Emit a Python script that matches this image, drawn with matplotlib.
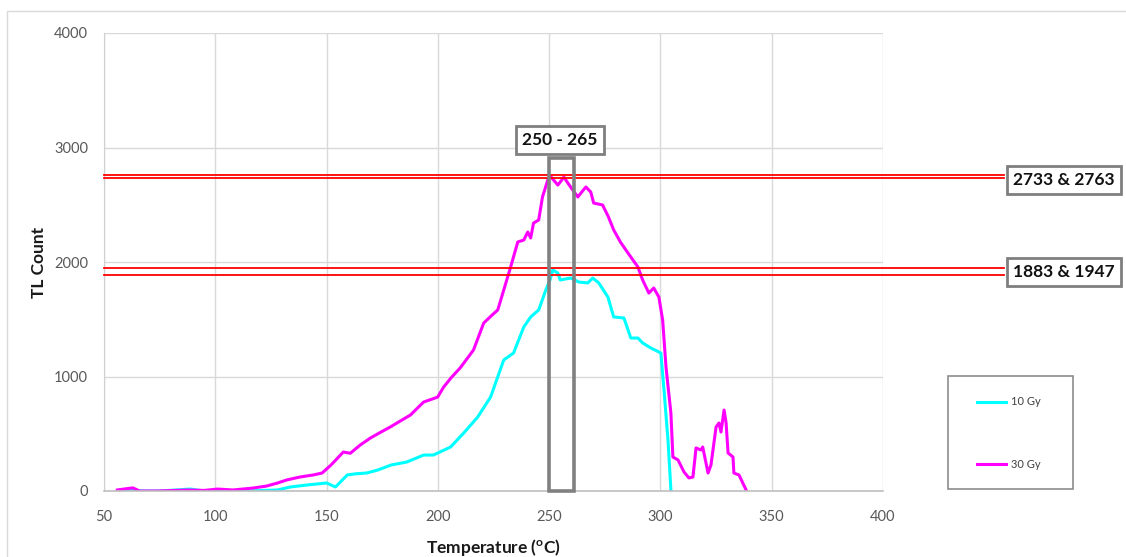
import matplotlib
matplotlib.use("Agg")
import matplotlib.pyplot as plt
from matplotlib.patches import Rectangle

# ---------------- data ----------------
temp_30gy = [
    56, 60, 63, 66, 74, 88, 95, 101, 108, 117,
    123, 128, 132, 138, 144, 148, 152, 157.5, 160.7, 165,
    169.7, 174, 178.7, 183, 187.7, 193.6, 199.9, 202.6, 206, 210,
    216, 220.6, 224, 226.9, 229.6, 232.7, 235.9, 238.6, 240.4, 241.7,
    243, 245.3, 247, 249.4, 250.5, 252, 253.9, 255, 256.6, 258.4,
    260.6, 262.9, 265, 266.5, 268.7, 270, 274, 276.5, 279, 282,
    285.4, 289.9, 292, 294.8, 297, 299.3, 301, 302.5, 304.7, 305.6,
    307.9, 310.6, 312.8, 314.6, 316, 318.2, 319, 321.4, 322.7, 325,
    326.3, 327.2, 328.6, 329.5, 330.4, 332.6, 333, 335.3, 337, 338.5,
]
tl_30gy = [
    9, 20, 27, 0, 0, 9, 5, 17, 9, 26,
    43, 70, 96, 122, 140, 157, 227, 340, 330, 400,
    463, 510, 560, 610, 664, 777, 820, 908, 990, 1074,
    1231, 1467, 1530, 1581, 1755, 1956, 2175, 2192, 2262, 2210,
    2340, 2367, 2568, 2716, 2750, 2716, 2672, 2699, 2742, 2690,
    2629, 2568, 2620, 2655, 2611, 2515, 2498, 2400, 2280, 2175,
    2079, 1956, 1843, 1729, 1773, 1694, 1493, 1083, 681, 297,
    271, 166, 114, 122, 376, 358, 384, 157, 227, 559,
    594, 515, 707, 594, 332, 297, 157, 140, 70, 9,
]
temp_10gy = [
    57, 62, 67, 75, 88.7, 95, 105, 115, 128, 133.7,
    141, 150, 154, 159.3, 163, 168, 173, 179, 186, 193.6,
    198, 205.7, 211.6, 217.9, 223.7, 228, 229.6, 234, 238.6, 241.7,
    245.3, 248.5, 250.5, 251.6, 253.9, 255, 259.7, 263.3, 267.4, 269.6,
    272.3, 276.4, 279, 283.6, 286.7, 289.9, 292, 295.7, 300.2, 301.6,
    303.4, 304.7,
]
tl_10gy = [
    9, 15, 0, 0, 17, 0, 5, 0, 9, 35,
    52, 70, 35, 140, 150, 157, 183, 227, 253, 314,
    314, 384, 506, 646, 821, 1057, 1144, 1205, 1432, 1520,
    1581, 1755, 1850, 1930, 1904, 1843, 1860, 1825, 1817, 1860,
    1817, 1694, 1520, 1511, 1336, 1336, 1293, 1249, 1205, 882,
    445, 9,
]
series_labels = ["10 Gy", "30 Gy"]
series_colors = ["#00FFFF", "#FF00FF"]

x_ticks = [50, 100, 150, 200, 250, 300, 350, 400]
y_ticks = [0, 1000, 2000, 3000, 4000]

peak_levels_30 = [2733, 2763]
peak_levels_10 = [1883, 1947]
peak_window = [250, 261]
peak_window_top = 2910
window_label = "250 - 265"
label_30 = "2733 & 2763"
label_10 = "1883 & 1947"

# ---------------- figure ----------------
plt.rcParams['font.family'] = ['Lato', 'DejaVu Sans']
W, H = 1126, 557
fig = plt.figure(figsize=(W / 100, H / 100), dpi=100)

def fx(px):
    return px / W

def fy(py):
    return 1 - py / H

# outer chart frame
fig.patches.append(Rectangle((fx(7), fy(560)), fx(1130) - fx(7), fy(11) - fy(560),
                             transform=fig.transFigure, fill=False,
                             edgecolor="#d9d9d9", linewidth=1.0))

ax = fig.add_axes([fx(104), fy(491), fx(883) - fx(104), fy(33) - fy(491)])
ax.set_xlim(50, 400)
ax.set_ylim(0, 4000)
ax.set_xticks(x_ticks)
ax.set_yticks(y_ticks)
ax.grid(True, color="#d9d9d9", linewidth=1.0)
ax.set_axisbelow(True)
ax.tick_params(length=0, labelsize=10.5, labelcolor="#595959")
ax.tick_params(axis="x", pad=14)
ax.tick_params(axis="y", pad=11.5)
for s in ["top", "right"]:
    ax.spines[s].set_visible(False)
ax.spines["left"].set_color("#d0d0d0")
ax.spines["bottom"].set_color("#bfbfbf")
ax.spines["bottom"].set_linewidth(1.2)

ax.set_xlabel("Temperature ($\\mathregular{^{o}}$C)", fontsize=12.5, fontweight="bold",
              color="#1a1a1a", labelpad=9)
ax.set_ylabel("TL Count", fontsize=12.5, fontweight="bold", color="#1a1a1a", labelpad=5)

l10, = ax.plot(temp_10gy, tl_10gy, color=series_colors[0], linewidth=2.2)
l30, = ax.plot(temp_30gy, tl_30gy, color=series_colors[1], linewidth=2.2)

# red reference lines extending beyond plot
x_end = (1004 - 104) / (883 - 104)
for lev in peak_levels_30 + peak_levels_10:
    ax.plot([0, x_end], [lev, lev], color="#ff0000", linewidth=1.3,
            transform=ax.get_yaxis_transform(), clip_on=False, zorder=4)

# gray peak window rectangle
ax.add_patch(Rectangle((peak_window[0], 0), peak_window[1] - peak_window[0], peak_window_top,
                       fill=False, edgecolor="#808080", linewidth=2.6, zorder=5, clip_on=False))

box_style = dict(boxstyle="square,pad=0.35", facecolor="white", edgecolor="#7f7f7f", linewidth=2)
fig.text(fx(560), fy(140), window_label, ha="center", va="center", fontsize=12.5,
         fontweight="bold", color="#111111", bbox=box_style)
fig.text(fx(1064), fy(180), label_30, ha="center", va="center", fontsize=12.5,
         fontweight="bold", color="#111111", bbox=box_style)
fig.text(fx(1064), fy(272), label_10, ha="center", va="center", fontsize=12.5,
         fontweight="bold", color="#111111", bbox=box_style)

# legend frame
fig.patches.append(Rectangle((fx(948), fy(489)), fx(1073) - fx(948), fy(376) - fy(489),
                             transform=fig.transFigure, fill=False,
                             edgecolor="#8c8c8c", linewidth=1.2))
leg = fig.legend([l10, l30], series_labels, loc="center",
                 bbox_to_anchor=(fx(1009), fy(433)), frameon=False, fontsize=8,
                 labelcolor="#404040", handlelength=2.6, handletextpad=0.4,
                 labelspacing=4.6)

fig.savefig("out.png", dpi=100)
